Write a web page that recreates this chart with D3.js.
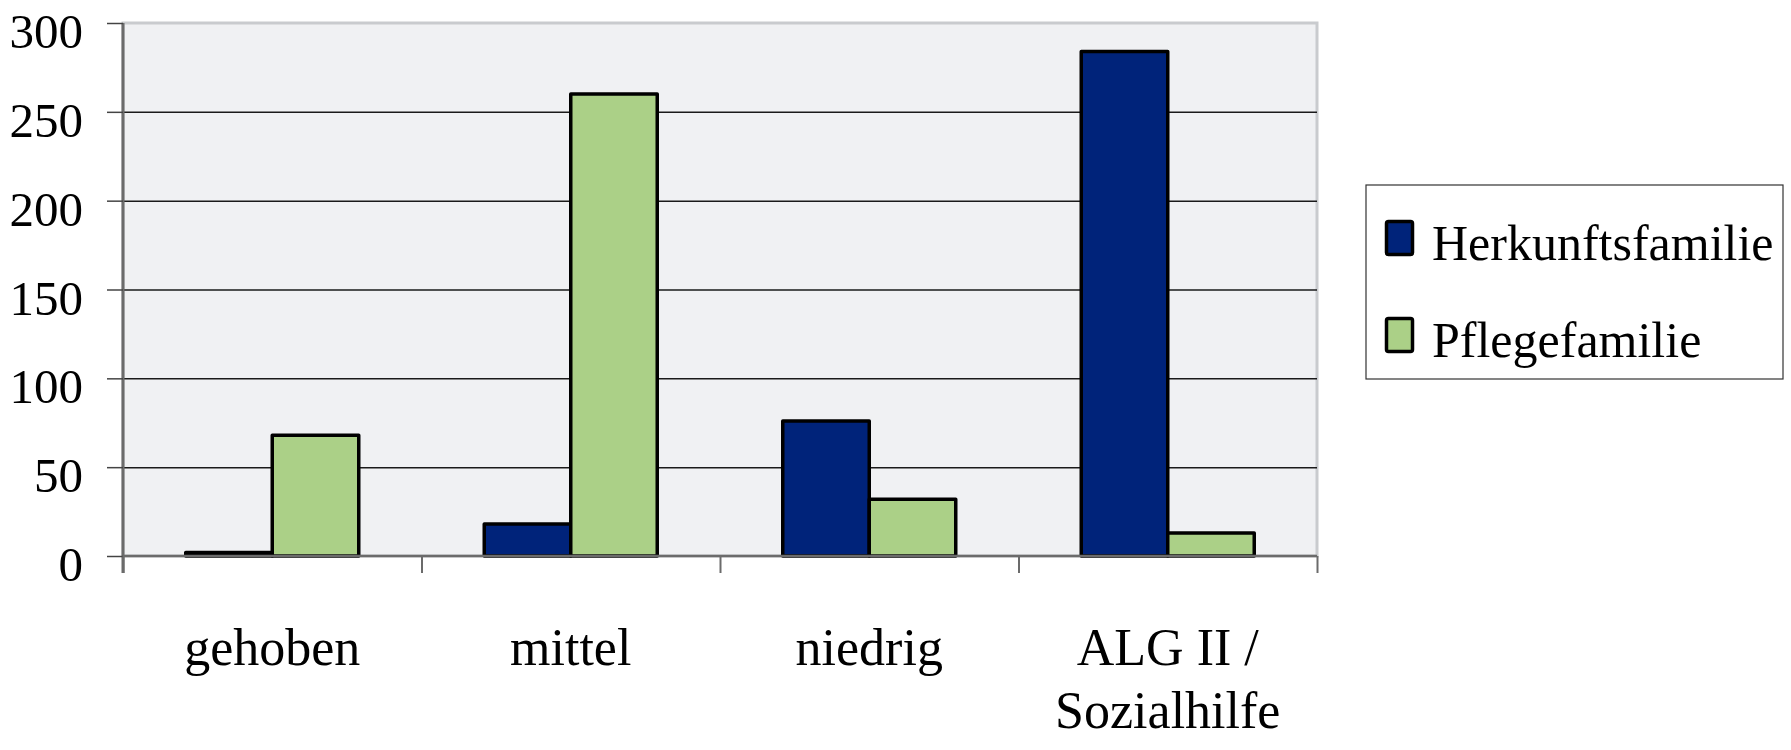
<!DOCTYPE html>
<html>
<head>
<meta charset="utf-8">
<script src="https://cdn.jsdelivr.net/npm/d3@7"></script>
<style>
  html, body { margin: 0; padding: 0; background: #ffffff; }
  svg { display: block; }
  text { font-family: "Liberation Serif", "DejaVu Serif", serif; fill: #000; }
</style>
</head>
<body>
<svg id="chart" width="1791" height="750"></svg>
<script>
const categories = [["gehoben"], ["mittel"], ["niedrig"], ["ALG II /", "Sozialhilfe"]];
const categoryKeys = ["gehoben", "mittel", "niedrig", "ALG II / Sozialhilfe"];
const seriesNames = ["Herkunftsfamilie", "Pflegefamilie"];
const herkunftsfamilie = [2, 18, 76, 284];
const pflegefamilie = [68, 260, 32, 13];
const yTicks = [0, 50, 100, 150, 200, 250, 300];
const seriesColors = ["#00237a", "#abd087"];

const seriesValues = [herkunftsfamilie, pflegefamilie];
const svg = d3.select("#chart");

const plot = { left: 123, right: 1317, top: 23, bottom: 556 };

const y = d3.scaleLinear().domain([0, 300]).range([plot.bottom, plot.top]);
const x0 = d3.scaleBand().domain(categoryKeys).range([plot.left, plot.right]).padding(0);
const x1 = d3.scaleBand().domain(seriesNames).range([0, x0.bandwidth()])
  .paddingInner(0).paddingOuter(0.7255);

// plot background
svg.append("rect")
  .attr("x", plot.left).attr("y", plot.top)
  .attr("width", plot.right - plot.left).attr("height", plot.bottom - plot.top)
  .attr("fill", "#f0f1f3")
  .attr("stroke", "#c9cbce").attr("stroke-width", 3);

// gridlines
const grid = svg.append("g").attr("transform", `translate(${plot.left},0)`)
  .call(d3.axisLeft(y).tickValues(yTicks.filter(v => v > 0 && v < 300)).tickSize(-(plot.right - plot.left)).tickFormat(""));
grid.select(".domain").remove();
grid.selectAll(".tick line").attr("stroke", "#1a1a1a").attr("stroke-width", 1.5);

// bars
const groups = svg.append("g").selectAll("g")
  .data(categoryKeys)
  .join("g")
  .attr("transform", d => `translate(${x0(d)},0)`);

groups.selectAll("rect")
  .data((d, i) => seriesNames.map((s, j) => ({ s, v: seriesValues[j][i], c: seriesColors[j] })))
  .join("rect")
  .attr("x", d => x1(d.s))
  .attr("width", x1.bandwidth())
  .attr("y", d => y(d.v))
  .attr("height", d => y(0) - y(d.v))
  .attr("fill", d => d.c)
  .attr("stroke", "#000")
  .attr("stroke-width", 3.5)
  .attr("stroke-linejoin", "round");

// y axis
const yAxis = svg.append("g").attr("transform", `translate(${plot.left},0)`)
  .call(d3.axisLeft(y).tickValues(yTicks).tickSize(16).tickPadding(24));
yAxis.select(".domain").attr("stroke", "#6b6b6b").attr("stroke-width", 3)
  .attr("d", `M0,${plot.top}V${plot.bottom + 17}`);
yAxis.selectAll(".tick line").attr("stroke", "#444").attr("stroke-width", 1.5);
yAxis.selectAll(".tick text")
  .style("font-size", "49px")
  .attr("dy", "0.5em")
  .attr("font-family", "Liberation Serif");

// x axis
const xAxis = svg.append("g").attr("transform", `translate(0,${plot.bottom})`)
  .call(d3.axisBottom(d3.scalePoint().domain(d3.range(5)).range([plot.left, plot.right]))
    .tickSize(17).tickFormat(""));
xAxis.select(".domain").attr("stroke", "#6b6b6b").attr("stroke-width", 2.5)
  .attr("d", `M${plot.left},0H${plot.right}`);
xAxis.selectAll(".tick line").attr("stroke", "#6b6b6b").attr("stroke-width", 2);

// category labels
const labels = svg.append("g").selectAll("text")
  .data(categories)
  .join("text")
  .attr("text-anchor", "middle")
  .attr("x", (d, i) => x0(categoryKeys[i]) + x0.bandwidth() / 2)
  .attr("y", 665)
  .style("font-size", "52px");
labels.selectAll("tspan")
  .data(d => d)
  .join("tspan")
  .attr("x", function() { return this.parentNode.getAttribute("x"); })
  .attr("dy", (d, i) => i === 0 ? 0 : 63)
  .text(d => d);

// legend
const legend = svg.append("g");
legend.append("rect")
  .attr("x", 1366).attr("y", 185).attr("width", 417).attr("height", 194)
  .attr("fill", "#fff").attr("stroke", "#333").attr("stroke-width", 1.2);
const item = legend.selectAll("g.item")
  .data(seriesNames)
  .join("g").attr("class", "item")
  .attr("transform", (d, i) => `translate(1385,${220 + i * 97})`);
item.append("rect")
  .attr("x", 1.5).attr("y", 1.5).attr("width", 26).attr("height", 33)
  .attr("fill", (d, i) => seriesColors[i])
  .attr("stroke", "#000").attr("stroke-width", 3.5).attr("rx", 2);
item.append("text")
  .attr("x", 47).attr("y", 40)
  .style("font-size", "50px")
  .text(d => d);
</script>
</body>
</html>
